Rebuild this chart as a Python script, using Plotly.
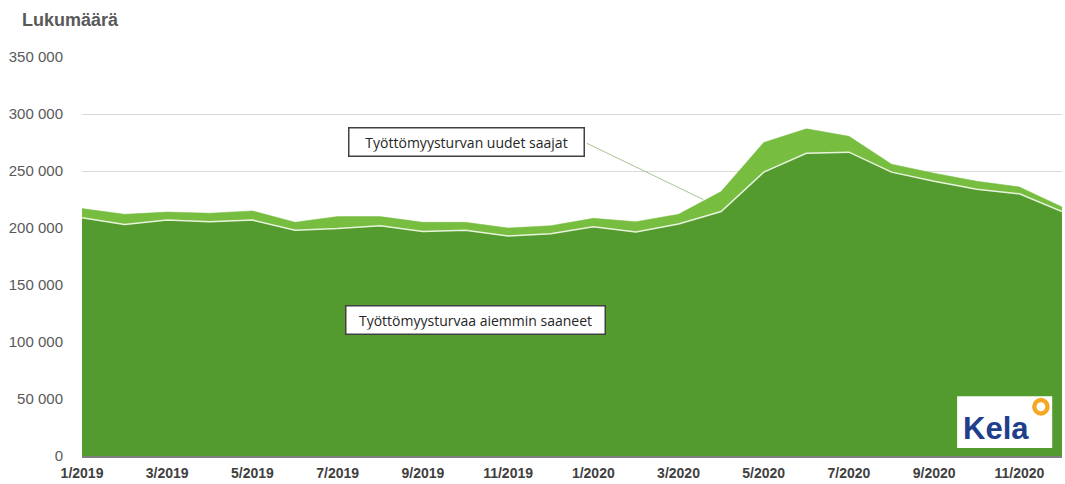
import plotly.graph_objects as go

months = ["1/2019", "2/2019", "3/2019", "4/2019", "5/2019", "6/2019", "7/2019", "8/2019",
          "9/2019", "10/2019", "11/2019", "12/2019", "1/2020", "2/2020", "3/2020", "4/2020",
          "5/2020", "6/2020", "7/2020", "8/2020", "9/2020", "10/2020", "11/2020", "12/2020"]

# Työttömyysturvaa aiemmin saaneet (previous recipients)
aiemmin_saaneet = [209000, 203000, 207000, 205500, 207000, 198000, 199500, 202000,
                   197000, 198000, 193000, 195000, 201000, 196500, 203500, 214500,
                   249000, 265500, 266500, 249000, 241000, 234000, 230000, 214500]

# Työttömyysturvan uudet saajat (new recipients)
uudet_saajat = [8000, 9000, 7000, 7500, 8000, 7000, 10500, 8000,
                8000, 7000, 7000, 7000, 7500, 9000, 8500, 17500,
                26000, 21500, 14000, 7000, 7000, 7000, 6000, 4000]

x_ticks = months[0::2]
y_ticks = [0, 50000, 100000, 150000, 200000, 250000, 300000, 350000]
y_ticktext = [f"{v:,}".replace(",", " ") for v in y_ticks]

label_prev = "Työttömyysturvaa aiemmin saaneet"
label_new = "Työttömyysturvan uudet saajat"

DARK = "#539b2f"
LIGHT = "#77bd40"

fig = go.Figure()
fig.add_trace(go.Scatter(
    x=months, y=aiemmin_saaneet, name=label_prev, stackgroup="one",
    mode="lines", line=dict(color="#e8f3dc", width=1.5), fillcolor=DARK,
))
fig.add_trace(go.Scatter(
    x=months, y=uudet_saajat, name=label_new, stackgroup="one",
    mode="lines", line=dict(color=LIGHT, width=0.5), fillcolor=LIGHT,
))

fig.update_layout(
    width=1065, height=484,
    margin=dict(l=82, r=3, t=57, b=28),
    paper_bgcolor="white", plot_bgcolor="white",
    showlegend=False,
    font=dict(family="Liberation Sans, Arial, sans-serif"),
)
fig.update_xaxes(
    type="category", range=[0, len(months) - 1],
    tickvals=x_ticks, ticktext=x_ticks,
    tickfont=dict(size=14, color="#404040", family="Liberation Sans, Arial, sans-serif", weight="bold"),
    showgrid=False, showline=True, linecolor="#7f7f7f", linewidth=1.5,
    ticks="outside", ticklen=3, tickcolor="rgba(0,0,0,0)",
)
fig.update_yaxes(
    range=[0, 350000], tickvals=y_ticks, ticktext=y_ticktext,
    tickfont=dict(size=15, color="#595959"),
    showgrid=True, gridcolor="#d9d9d9", gridwidth=1, zeroline=False,
    ticks="outside", ticklen=15, tickcolor="rgba(0,0,0,0)",
)

# Title
fig.add_annotation(
    text="<b>Lukumäärä</b>", xref="paper", yref="paper",
    x=-0.0633, y=1.093, xanchor="left", yanchor="middle", showarrow=False,
    font=dict(size=18, color="#595959"),
)

# Series labels
fig.add_annotation(
    text=label_new, xref="paper", yref="paper", x=0.392, y=0.787,
    xanchor="center", yanchor="middle", showarrow=False,
    font=dict(size=14, color="#262626", family="Open Sans, Liberation Sans, sans-serif"),
    bgcolor="white", bordercolor="#404040", borderwidth=1.5, borderpad=4,
    width=226, height=19,
)
fig.add_annotation(
    text="", x=14.58, y=225000, xref="x", yref="y",
    ax=-118, ay=-57, showarrow=True, arrowhead=0, arrowwidth=1,
    arrowcolor="#a8c394", standoff=0, startstandoff=0,
)
fig.add_annotation(
    text=label_prev, xref="paper", yref="paper", x=0.402, y=0.341,
    xanchor="center", yanchor="middle", showarrow=False,
    font=dict(size=14, color="#262626", family="Open Sans, Liberation Sans, sans-serif"),
    bgcolor="white", bordercolor="#404040", borderwidth=1.5, borderpad=4,
    width=250, height=19,
)

# Kela logo
fig.add_shape(type="rect", xref="paper", yref="paper",
              x0=0.893, x1=0.990, y0=0.020, y1=0.150,
              fillcolor="white", line=dict(width=0), layer="above")
fig.add_annotation(
    text="<b>Kela</b>", xref="paper", yref="paper", x=0.933, y=0.070,
    xanchor="center", yanchor="middle", showarrow=False,
    font=dict(size=31, color="#1f3f8c", family="Liberation Sans, sans-serif"),
)
fig.add_shape(type="circle", xref="paper", yref="paper",
              x0=0.9695, x1=0.9875, y0=0.101, y1=0.146,
              fillcolor="#f6a723", line=dict(width=0), layer="above")
fig.add_shape(type="circle", xref="paper", yref="paper",
              x0=0.9740, x1=0.9830, y0=0.112, y1=0.135,
              fillcolor="white", line=dict(width=0), layer="above")

fig.write_html("out.html", config={"displayModeBar": False},
               post_script="document.body.style.margin='0';")
